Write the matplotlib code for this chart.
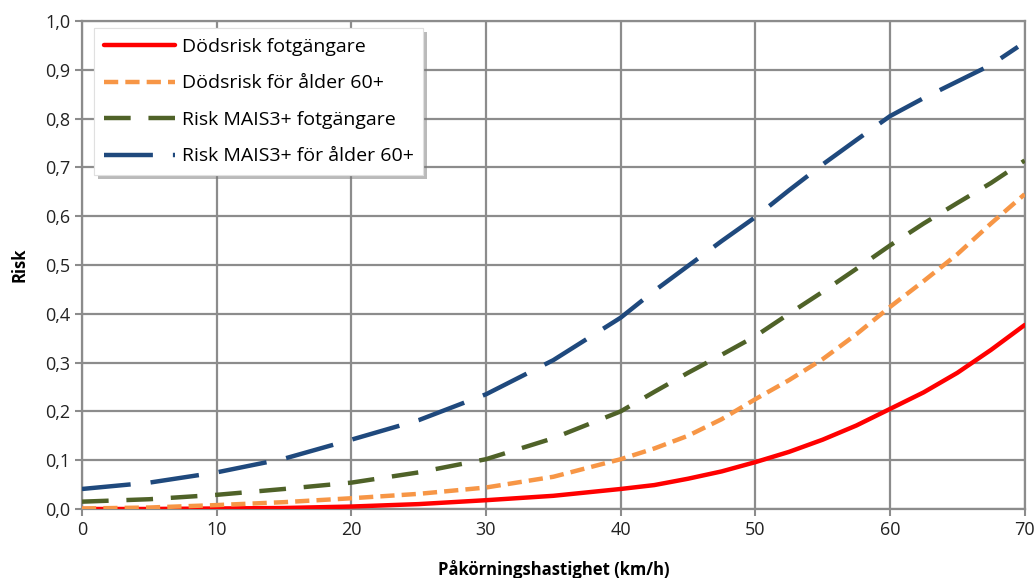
import matplotlib
matplotlib.use('Agg')
import matplotlib.pyplot as plt
import matplotlib.patheffects as pe
from matplotlib.ticker import FuncFormatter

# Hastighet (km/h)
hastighet = [0, 5, 10, 15, 20, 25, 30, 35, 40, 42.5, 45, 47.5, 50, 52.5, 55, 57.5, 60, 62.5, 65, 67.5, 70]

# Risker
dod_fotg = [0.0, 0.0, 0.001, 0.002, 0.005, 0.010, 0.018, 0.027, 0.041, 0.049, 0.062, 0.077, 0.096, 0.117, 0.142, 0.171,
            0.205, 0.239, 0.279, 0.326, 0.377]
dod_60 = [0.001, 0.003, 0.008, 0.014, 0.022, 0.031, 0.044, 0.066, 0.102, 0.124, 0.150, 0.184, 0.225, 0.264, 0.307, 0.358,
          0.414, 0.467, 0.522, 0.585, 0.645]
mais_fotg = [0.015, 0.020, 0.029, 0.041, 0.054, 0.075, 0.102, 0.145, 0.200, 0.240, 0.279, 0.316, 0.354, 0.400, 0.445,
             0.492, 0.540, 0.585, 0.627, 0.668, 0.714]
hast_blue = [0, 5, 10, 15, 20, 25, 30, 35, 40, 42.5, 45, 47.5, 50, 52.5, 55, 57.5, 60, 62.5, 65, 67.5, 69.5]
mais_60 = [0.041, 0.054, 0.075, 0.103, 0.142, 0.182, 0.235, 0.305, 0.392, 0.447, 0.498, 0.549, 0.598, 0.653, 0.706,
           0.756, 0.805, 0.842, 0.876, 0.910, 0.947]

plt.rcParams['font.family'] = ['Open Sans', 'DejaVu Sans']

fig = plt.figure(figsize=(10.35, 5.78), dpi=100)
ax = fig.add_axes([0.0792, 0.1194, 0.9108, 0.8443])

lw = 3.2
ax.plot(hastighet, dod_fotg, color='#FF0000', lw=lw, solid_capstyle='round', label='Dödsrisk fotgängare', zorder=3)
ax.plot(hastighet, dod_60, color='#F79646', lw=lw, dashes=(3.2, 1.6), label='Dödsrisk för ålder 60+', zorder=3)
ax.plot(hastighet, mais_fotg, color='#4F6228', lw=lw, dashes=(6, 4), label='Risk MAIS3+ fotgängare', zorder=3)
ax.plot(hast_blue, mais_60, color='#1F497D', lw=lw, dashes=(11, 4.5), label='Risk MAIS3+ för ålder 60+', zorder=3)

ax.set_xlim(0, 70)
ax.set_ylim(0, 1.0)
ax.set_xticks(range(0, 71, 10))
ax.set_yticks([i / 10 for i in range(11)])
ax.yaxis.set_major_formatter(FuncFormatter(lambda v, p: f'{v:.1f}'.replace('.', ',')))
ax.grid(True, color='#8C8C8C', lw=1.6)
ax.set_axisbelow(True)
for s in ax.spines.values():
    s.set_color('#8C8C8C')
    s.set_linewidth(1.6)
ax.tick_params(axis='both', colors='#8C8C8C', labelcolor='#222222', labelsize=13, length=5, width=1.5, direction='out')

ax.set_xlabel('Påkörningshastighet (km/h)', fontsize=12, fontweight='bold', labelpad=15)
ax.set_ylabel('Risk', fontsize=12, fontweight='bold', labelpad=12)

leg = ax.legend(loc='upper left', bbox_to_anchor=(0.013, 0.985), fontsize=14, frameon=True,
                fancybox=False, handlelength=3.65, handletextpad=0.35, borderpad=0.5, labelspacing=0.95,
                borderaxespad=0)
frame = leg.get_frame()
frame.set_facecolor('white')
frame.set_alpha(1)
frame.set_edgecolor('#E0E0E0')
frame.set_linewidth(0.8)
frame.set_path_effects([pe.withSimplePatchShadow(offset=(3, -3), shadow_rgbFace='#777777', alpha=0.5), pe.Normal()])

plt.savefig('out.png', dpi=100)
